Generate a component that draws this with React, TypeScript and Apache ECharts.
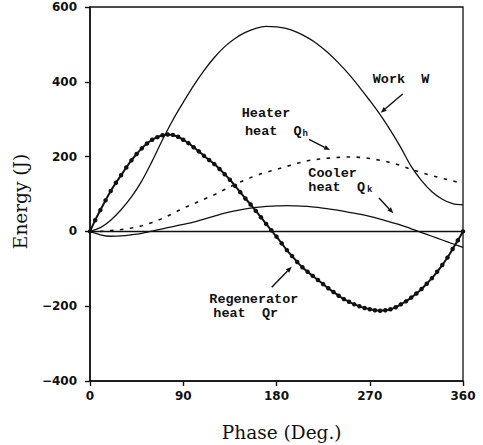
import React, { useEffect, useRef } from "react";
import * as echarts from "echarts";

// Phase angle grid for the smooth energy curves (degrees)
const phase10 = [
  0, 10, 20, 30, 40, 50, 60, 70, 80, 90, 100, 110, 120, 130, 140, 150, 160, 170, 180,
  190, 200, 210, 220, 230, 240, 250, 260, 270, 280, 290, 300, 310, 320, 330, 340, 350, 360,
];

// Work W (J)
const workW = [
  0, 10, 30, 58, 92, 135, 188, 245, 298, 345, 390, 430, 465, 494, 516, 532, 543, 548, 547,
  542, 532, 518, 500, 477, 450, 420, 386, 350, 312, 270, 224, 174, 136, 106, 86, 74, 71,
];

// Heater heat Qh (J)
const heaterQh = [
  0, 0, 2, 5, 9, 15, 24, 35, 48, 62, 74, 86, 98, 112, 126, 138, 149, 158, 166,
  174, 182, 189, 193, 196, 198, 199, 198, 195, 190, 184, 176, 166, 157, 149, 142, 135, 128,
];

// Cooler heat Qk (J)
const coolerQk = [
  0, -9, -13, -12, -9, -5, 1, 7, 13, 19, 25, 33, 41, 49, 55, 60, 64, 67, 68,
  69, 68, 67, 64, 60, 56, 51, 46, 40, 33, 25, 17, 7, -3, -13, -23, -33, -43,
];

// Regenerator heat Qr, sampled every 5 degrees (J)
const phase5 = [
  0, 5, 10, 15, 20, 25, 30, 35, 40, 45, 50, 55, 60, 65, 70, 75, 80, 85, 90, 95, 100,
  105, 110, 115, 120, 125, 130, 135, 140, 145, 150, 155, 160, 165, 170, 175, 180,
  185, 190, 195, 200, 205, 210, 215, 220, 225, 230, 235, 240, 245, 250, 255, 260,
  265, 270, 275, 280, 285, 290, 295, 300, 305, 310, 315, 320, 325, 330, 335, 340,
  345, 350, 355, 360,
];
const regenQr = [
  0, 30, 57, 83, 108, 130, 150, 171, 190, 207, 222, 235, 245, 252, 257, 259, 258, 253, 245, 236, 225,
  214, 202, 191, 180, 167, 153, 138, 122, 105, 88, 72, 55, 38, 20, 3, -14,
  -32, -50, -66, -82, -96, -108, -119, -130, -141, -152, -162, -172, -181, -188, -195, -200,
  -205, -208, -211, -212, -211, -208, -203, -195, -187, -177, -166, -154, -140, -125, -108, -90,
  -70, -47, -24, 0,
];

const xTicks = [0, 90, 180, 270, 360];
const yTicks = [-400, -200, 0, 200, 400, 600];

const pair = (xs: number[], ys: number[]) => xs.map((x, i) => [x, ys[i]]);

const LABEL_FONT = 'bold 13.5px "Liberation Mono", monospace';
const SUB_FONT = 'bold 9px "Liberation Mono", monospace';
const TITLE_FONT = '18.5px "DejaVu Serif", serif';

function label(text: string, x: number, y: number) {
  return {
    type: "text",
    x,
    y,
    silent: true,
    style: { text, font: LABEL_FONT, fill: "#111", align: "left", verticalAlign: "middle" },
  };
}

function sub(text: string, x: number, y: number) {
  return {
    type: "text",
    x,
    y,
    silent: true,
    style: { text, font: SUB_FONT, fill: "#111", align: "left", verticalAlign: "middle" },
  };
}

// Pointer line with a small filled head at (x2, y2)
function arrow(x1: number, y1: number, x2: number, y2: number) {
  const ang = Math.atan2(y2 - y1, x2 - x1);
  const len = 6;
  const half = 2.4;
  const bx = x2 - len * Math.cos(ang);
  const by = y2 - len * Math.sin(ang);
  const px = -Math.sin(ang) * half;
  const py = Math.cos(ang) * half;
  return {
    type: "group",
    silent: true,
    children: [
      {
        type: "line",
        shape: { x1, y1, x2: bx, y2: by },
        style: { stroke: "#111", lineWidth: 1.4 },
      },
      {
        type: "polygon",
        shape: { points: [[x2, y2], [bx + px, by + py], [bx - px, by - py]] },
        style: { fill: "#111" },
      },
    ],
  };
}

export default function App() {
  const ref = useRef<HTMLDivElement>(null);

  useEffect(() => {
    if (!ref.current) return;
    const chart = echarts.init(ref.current, undefined, { renderer: "svg" });

    const axisLabel = {
      color: "#111",
      fontFamily: '"DejaVu Sans", sans-serif',
      fontWeight: "bold" as const,
      fontSize: 12,
    };

    chart.setOption({
      animation: false,
      backgroundColor: "#fff",
      grid: {
        left: 90,
        top: 7,
        width: 373,
        height: 374,
        show: true,
        borderColor: "#111",
        borderWidth: 1.3,
        backgroundColor: "transparent",
      },
      xAxis: {
        type: "value",
        min: xTicks[0],
        max: xTicks[xTicks.length - 1],
        interval: 90,
        axisLine: { show: true, onZero: false, lineStyle: { color: "#111", width: 1.6 } },
        axisTick: { show: true, inside: false, length: 5, lineStyle: { color: "#111", width: 1.4 } },
        axisLabel: { ...axisLabel, margin: 9 },
        splitLine: { show: false },
      },
      yAxis: {
        type: "value",
        min: yTicks[0],
        max: yTicks[yTicks.length - 1],
        interval: 200,
        axisLine: { show: true, onZero: false, lineStyle: { color: "#111", width: 1.6 } },
        axisTick: { show: true, inside: false, length: 5, lineStyle: { color: "#111", width: 1.4 } },
        axisLabel: {
          ...axisLabel,
          margin: 13,
          formatter: (v: number) => (v < 0 ? "\u2212" + Math.abs(v) : String(v)),
        },
        splitLine: { show: false },
      },
      series: [
        {
          name: "Work W",
          type: "line",
          data: pair(phase10, workW),
          smooth: 0.35,
          showSymbol: false,
          lineStyle: { color: "#111", width: 1.3 },
          markLine: {
            silent: true,
            symbol: "none",
            label: { show: false },
            lineStyle: { color: "#111", width: 1.4, type: "solid" },
            data: [{ yAxis: 0 }],
          },
        },
        {
          name: "Heater heat Qh",
          type: "line",
          data: pair(phase10, heaterQh),
          smooth: 0.35,
          showSymbol: false,
          lineStyle: { color: "#111", width: 1.6, type: [3.5, 6.5] },
        },
        {
          name: "Cooler heat Qk",
          type: "line",
          data: pair(phase10, coolerQk),
          smooth: 0.35,
          showSymbol: false,
          lineStyle: { color: "#111", width: 1.3 },
        },
        {
          name: "Regenerator heat Qr",
          type: "line",
          data: pair(phase5, regenQr),
          smooth: 0.3,
          showSymbol: true,
          symbol: "circle",
          symbolSize: 4.5,
          itemStyle: { color: "#111" },
          lineStyle: { color: "#111", width: 2 },
        },
      ],
      graphic: [
        {
          type: "text",
          x: 20.5,
          y: 201.5,
          rotation: Math.PI / 2,
          silent: true,
          style: { text: "Energy (J)", font: TITLE_FONT, fill: "#111", align: "center", verticalAlign: "middle" },
        },
        {
          type: "text",
          x: 281.7,
          y: 432,
          silent: true,
          style: { text: "Phase (Deg.)", font: TITLE_FONT, fill: "#111", align: "center", verticalAlign: "middle" },
        },
        label("Work  W", 372.7, 79.5),
        arrow(402.7, 94, 380.7, 112.7),
        label("Heater", 241.7, 113.3),
        label("heat  Q", 245, 131.7),
        sub("h", 302.5, 134),
        arrow(309, 139.3, 330, 150),
        label("Cooler", 308.3, 173.5),
        label("heat  Q", 308.3, 187.5),
        sub("k", 367, 190),
        arrow(379, 198, 393.3, 213.3),
        label("Regenerator", 209.3, 299.3),
        label("heat  Qr", 213.3, 313.3),
        arrow(271.7, 287.3, 291.7, 266.7),
      ],
    });

    return () => chart.dispose();
  }, []);

  return (
    <div
      ref={ref}
      style={{ position: "absolute", left: 0, top: 0, width: 483, height: 445 }}
    />
  );
}
